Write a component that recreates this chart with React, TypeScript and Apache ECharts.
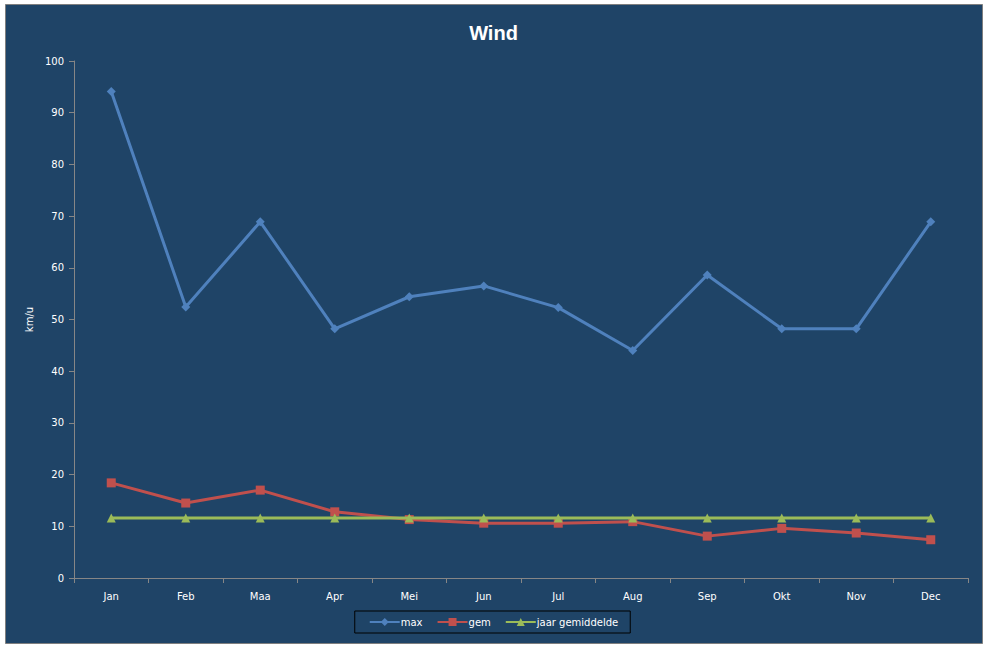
import React, { useEffect, useRef } from "react";
import * as echarts from "echarts";

const categories = ["Jan", "Feb", "Maa", "Apr", "Mei", "Jun", "Jul", "Aug", "Sep", "Okt", "Nov", "Dec"];
const maxValues = [94.1, 52.4, 68.9, 48.2, 54.4, 56.5, 52.3, 44.0, 58.6, 48.2, 48.2, 68.9];
const gemValues = [18.4, 14.5, 17.0, 12.8, 11.3, 10.6, 10.6, 10.9, 8.1, 9.6, 8.7, 7.4];
const jaarValues = [11.6, 11.6, 11.6, 11.6, 11.6, 11.6, 11.6, 11.6, 11.6, 11.6, 11.6, 11.6];
const seriesNames = ["max", "gem", "jaar gemiddelde"];

const BG = "#1F4467";
const AXIS = "#868686";
const TEXT = "#FFFFFF";
const FONT = "Verdana, 'DejaVu Sans', sans-serif";

export default function App() {
  const ref = useRef<HTMLDivElement>(null);
  useEffect(() => {
    if (!ref.current) return;
    const chart = echarts.init(ref.current, undefined, { renderer: "svg" });
    chart.setOption({
      animation: false,
      backgroundColor: "#FFFFFF",
      graphic: [
        {
          type: "rect",
          z: -10,
          silent: true,
          shape: { x: 5.5, y: 4.5, width: 977, height: 639 },
          style: { fill: BG, stroke: "#7F7F7F", lineWidth: 1 },
        },
      ],
      title: {
        text: "Wind",
        left: "center",
        top: 18,
        textStyle: { color: TEXT, fontSize: 20, fontWeight: "bold", fontFamily: "'Liberation Sans', Arial, sans-serif" },
      },
      grid: { left: 74, right: 19, top: 61, bottom: 70 },
      legend: {
        data: seriesNames,
        orient: "horizontal",
        left: "center",
        top: 611,
        padding: [6, 12, 6, 14],
        itemGap: 14,
        itemWidth: 30,
        itemHeight: 10,
        borderColor: "#000000",
        borderWidth: 1,
        borderRadius: 0,
        backgroundColor: BG,
        textStyle: { color: TEXT, fontSize: 10, fontFamily: FONT, padding: [0, 0, 0, -4] },
      },
      xAxis: {
        type: "category",
        data: categories,
        boundaryGap: true,
        axisLine: { lineStyle: { color: AXIS, width: 1 } },
        axisTick: { show: true, length: 5, lineStyle: { color: AXIS } },
        axisLabel: { color: TEXT, fontSize: 10, fontFamily: FONT, margin: 13 },
        splitLine: { show: false },
      },
      yAxis: {
        type: "value",
        min: 0,
        max: 100,
        interval: 10,
        name: "km/u",
        nameLocation: "middle",
        nameGap: 40,
        nameRotate: 90,
        nameTextStyle: { color: TEXT, fontSize: 10, fontFamily: FONT },
        axisLine: { show: true, lineStyle: { color: AXIS, width: 1 } },
        axisTick: { show: true, length: 5, lineStyle: { color: AXIS } },
        axisLabel: { color: TEXT, fontSize: 10, fontFamily: FONT, margin: 10 },
        splitLine: { show: false },
      },
      series: [
        {
          name: seriesNames[0],
          type: "line",
          data: maxValues,
          symbol: "diamond",
          symbolSize: 9,
          lineStyle: { color: "#4F81BD", width: 3 },
          itemStyle: { color: "#4F81BD" },
          z: 3,
        },
        {
          name: seriesNames[1],
          type: "line",
          data: gemValues,
          symbol: "rect",
          symbolSize: 9,
          lineStyle: { color: "#C0504D", width: 3 },
          itemStyle: { color: "#C0504D" },
          z: 3,
        },
        {
          name: seriesNames[2],
          type: "line",
          data: jaarValues,
          symbol: "triangle",
          symbolSize: 9,
          lineStyle: { color: "#9BBB59", width: 3 },
          itemStyle: { color: "#9BBB59" },
          z: 4,
        },
      ],
    });
    return () => chart.dispose();
  }, []);
  return (
    <div
      ref={ref}
      style={{ position: "absolute", left: 0, top: 0, width: 987, height: 648 }}
    />
  );
}
